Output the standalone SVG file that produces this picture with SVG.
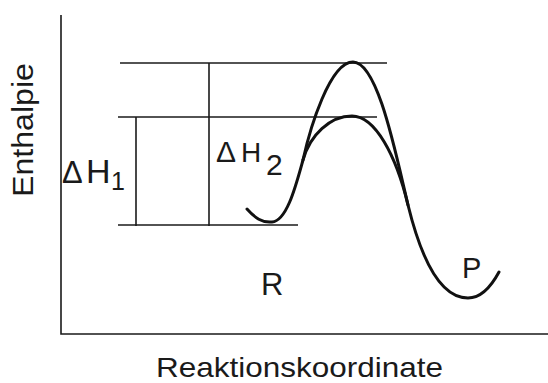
<svg xmlns="http://www.w3.org/2000/svg" width="548" height="383" viewBox="0 0 548 383">
<style>
.ln{stroke:#1a1a1a;stroke-width:1.6;fill:none}
.cv{stroke:#111;stroke-width:3;fill:none;stroke-linecap:round}
.t{font-family:"Liberation Sans",Arial,sans-serif;fill:#1a1a1a}
</style>
<rect width="548" height="383" fill="#fff"/>
<g id="axes">
<path class="ln" d="M61,15 V334 H548"/>
</g>
<g id="connectors">
<path class="ln" d="M120,63 H387"/>
<path class="ln" d="M118,117 H377"/>
<path class="ln" d="M118,225 H298"/>
<path class="ln" d="M136,117 V226"/>
<path class="ln" d="M209,63 V226"/>
</g>
<g id="curves">
<path class="cv" d="M247,209 C255,218 262,223 272,222 C287,221 296,185 303,160 C310,128 330,62 353,62 C378,62 396,155 408,205 C421,258 440,298 468,298 C482,298 492,285 499,272"/>
<path class="cv" d="M303,160 C310,135 330,116 352,116 C375,116 396,155 408,205"/>
</g>
<g id="label-dH1">
<text class="t" x="62" y="183" font-size="31">Δ</text>
<text class="t" x="86" y="183" font-size="34">H</text>
<text class="t" x="111" y="190" font-size="25">1</text>
</g>
<g id="label-dH2">
<text class="t" x="216" y="162" font-size="30">Δ</text>
<text class="t" x="241" y="162" font-size="28">H</text>
<text class="t" x="266" y="175" font-size="30">2</text>
</g>
<g id="label-R">
<text class="t" x="261" y="295" font-size="31">R</text>
</g>
<g id="label-P">
<text class="t" x="462" y="278" font-size="29">P</text>
</g>
<g id="axis-labels">
<text class="t" transform="translate(33,130) rotate(-90)" text-anchor="middle" font-size="29" textLength="134" lengthAdjust="spacingAndGlyphs">Enthalpie</text>
<text class="t" x="156" y="377" font-size="28" textLength="287" lengthAdjust="spacingAndGlyphs">Reaktionskoordinate</text>
</g>
</svg>
